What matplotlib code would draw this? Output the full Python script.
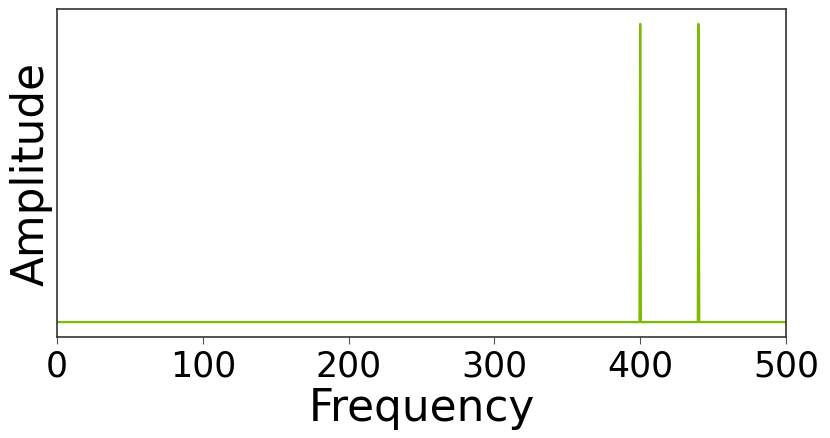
#!/usr/bin/env python3
"""Two-tone amplitude spectrum: peaks at 400 Hz and 440 Hz."""

import matplotlib

matplotlib.use("Agg")
import matplotlib.pyplot as plt


# spectrum samples (zero everywhere except the two tones)
frequency = [0, 399.5, 400, 400.5, 439.5, 440, 440.5, 500]
amplitude = [0, 0, 1, 0, 0, 1, 0, 0]

x_ticks = [0, 100, 200, 300, 400, 500]

LINE_COLOR = "#7dbb00"


def main():
    figure = plt.figure(figsize=(8.3, 4.39), dpi=100, facecolor="white")
    axis = figure.add_axes([57 / 830, 1 - 338 / 439, 729 / 830, 328 / 439])

    axis.plot(frequency, amplitude, color=LINE_COLOR, linewidth=1.6)

    axis.set_xlim(0, 500)
    axis.set_xticks(x_ticks)
    axis.set_yticks([])
    axis.tick_params(axis="x", labelsize=25, color="#555555", length=5)
    axis.set_xlabel("Frequency", fontsize=31.5, labelpad=2)
    axis.set_ylabel("Amplitude", fontsize=31.5, labelpad=3)

    for spine in axis.spines.values():
        spine.set_color("#333333")
        spine.set_linewidth(1.2)

    figure.savefig("out.png", dpi=100)
    plt.close(figure)


if __name__ == "__main__":
    main()
